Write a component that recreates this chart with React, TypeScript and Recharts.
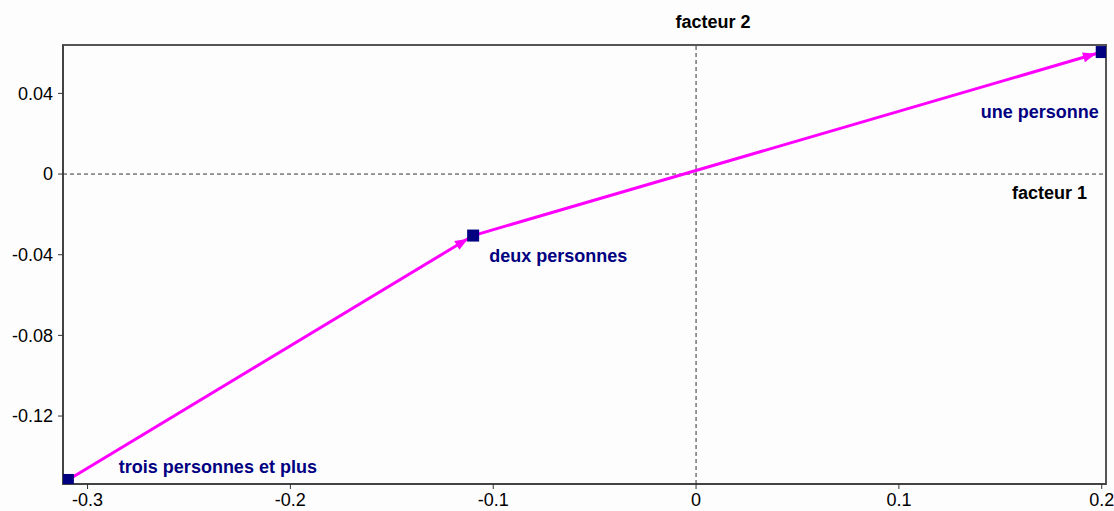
import { LineChart, Line, XAxis, YAxis, ReferenceLine, ReferenceArea } from 'recharts';

const categories = ['trois personnes et plus', 'deux personnes', 'une personne'];
const facteur1 = [-0.3097, -0.1099, 0.2];
const facteur2 = [-0.1517, -0.0305, 0.0605];
const xTicks = [-0.3, -0.2, -0.1, 0, 0.1, 0.2];
const yTicks = [-0.12, -0.08, -0.04, 0, 0.04];

const X_DOMAIN: [number, number] = [-0.3121, 0.2021];
const Y_DOMAIN: [number, number] = [-0.1537, 0.064];

const data = categories.map((name, i) => ({ name, x: facteur1[i], y: facteur2[i] }));

const NAVY = '#000080';
const MAGENTA = '#ff00ff';
const FONT = '"Liberation Sans", Arial, sans-serif';

// where each point's label sits relative to its marker
const labelPos = [
    { dx: 51, dy: -13, anchor: 'start' },
    { dx: 16, dy: 20, anchor: 'start' },
    { dx: -3, dy: 60, anchor: 'end' },
];

function PointMark(props: any) {
    const { cx, cy, index, points, payload } = props;
    if (cx == null || cy == null) return null;
    let arrow = null;
    if (index > 0 && points && points[index - 1]) {
        const prev = points[index - 1];
        const vx = cx - prev.x;
        const vy = cy - prev.y;
        const len = Math.hypot(vx, vy) || 1;
        const ux = vx / len;
        const uy = vy / len;
        const tipX = cx - ux * 6;
        const tipY = cy - uy * 6;
        const baseX = tipX - ux * 13;
        const baseY = tipY - uy * 13;
        const px = -uy * 5;
        const py = ux * 5;
        arrow = (
            <polygon
                points={`${tipX},${tipY} ${baseX + px},${baseY + py} ${baseX - px},${baseY - py}`}
                fill={MAGENTA}
            />
        );
    }
    const lp = labelPos[index];
    return (
        <g>
            {arrow}
            <rect x={cx - 6} y={cy - 6} width={12} height={12} fill={NAVY} />
            <text
                x={cx + lp.dx}
                y={cy + lp.dy}
                textAnchor={lp.anchor as any}
                dominantBaseline="central"
                fill={NAVY}
                fontFamily={FONT}
                fontWeight="bold"
                fontSize={18}
            >
                {payload.name}
            </text>
        </g>
    );
}

function Facteur2Label(props: any) {
    const { viewBox } = props;
    return (
        <text x={viewBox.x + 17} y={viewBox.y - 23} textAnchor="middle" dominantBaseline="central"
            fontFamily={FONT} fontWeight="bold" fontSize={18} fill="#000">
            facteur 2
        </text>
    );
}

function Facteur1Label(props: any) {
    const { viewBox } = props;
    return (
        <text x={viewBox.x + viewBox.width - 19} y={viewBox.y + 19} textAnchor="end" dominantBaseline="central"
            fontFamily={FONT} fontWeight="bold" fontSize={18} fill="#000">
            facteur 1
        </text>
    );
}

export default function App() {
    return (
        <div style={{ position: 'absolute', left: 0, top: 0, width: 1114, height: 511, background: '#fdfdfd' }}>
            <LineChart width={1114} height={511} data={data} margin={{ top: 45, right: 8, left: 8, bottom: 5 }}>
                <ReferenceArea
                    x1={X_DOMAIN[0]}
                    x2={X_DOMAIN[1]}
                    y1={Y_DOMAIN[0]}
                    y2={Y_DOMAIN[1]}
                    fill="none"
                    stroke="#555"
                    strokeWidth={2}
                    fillOpacity={0}
                />
                <XAxis
                    type="number"
                    dataKey="x"
                    domain={X_DOMAIN}
                    ticks={xTicks}
                    allowDataOverflow
                    height={22}
                    tickSize={5}
                    tickMargin={4}
                    stroke="#333"
                    tick={{ fill: '#000', fontSize: 18, fontFamily: FONT }}
                />
                <YAxis
                    type="number"
                    dataKey="y"
                    domain={Y_DOMAIN}
                    ticks={yTicks}
                    allowDataOverflow
                    width={55}
                    tickSize={5}
                    tickMargin={5}
                    stroke="#333"
                    tick={{ fill: '#000', fontSize: 18, fontFamily: FONT }}
                />
                <ReferenceLine x={0} stroke="#333" strokeDasharray="4 3" label={<Facteur2Label />} />
                <ReferenceLine y={0} stroke="#333" strokeDasharray="4 3" label={<Facteur1Label />} />
                <Line
                    type="linear"
                    dataKey="y"
                    stroke={MAGENTA}
                    strokeWidth={3}
                    dot={<PointMark />}
                    activeDot={false}
                    isAnimationActive={false}
                />
            </LineChart>
        </div>
    );
}
